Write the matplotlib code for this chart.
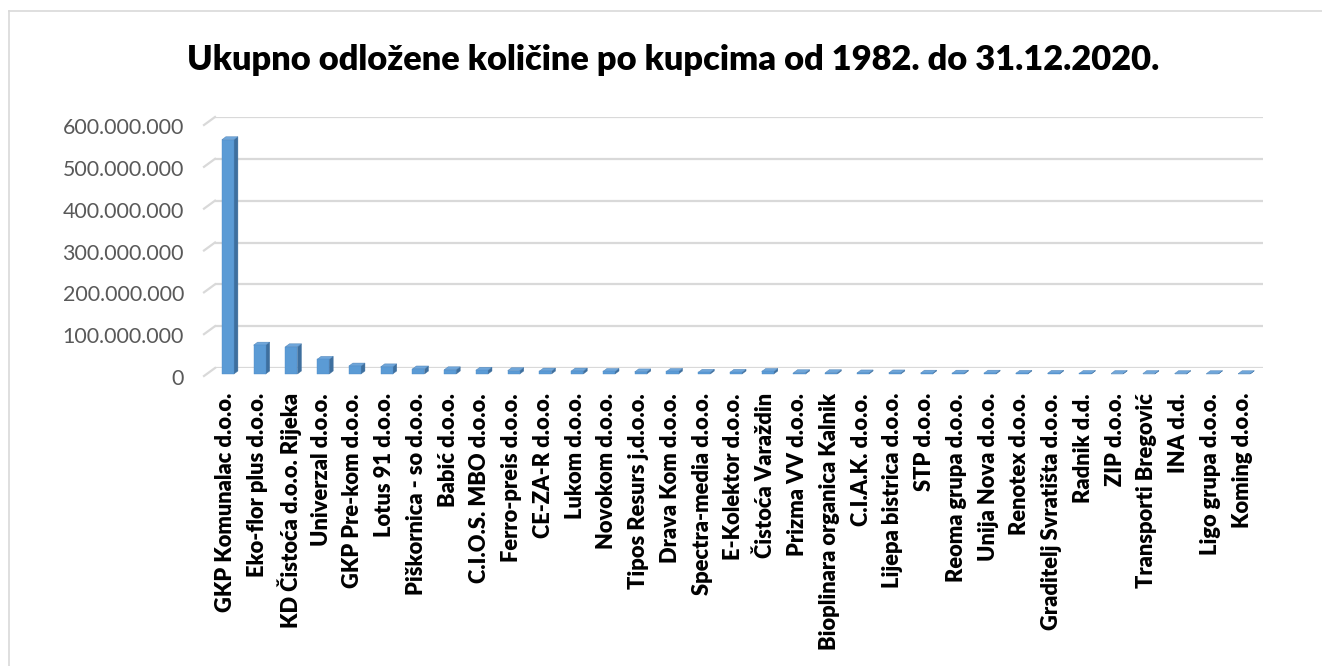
import matplotlib
matplotlib.use("Agg")
import matplotlib.pyplot as plt
from matplotlib.patches import Polygon
from matplotlib.lines import Line2D
from matplotlib.ticker import FuncFormatter
import matplotlib.transforms as mtransforms

title = "Ukupno odložene količine po kupcima od 1982. do 31.12.2020."

categories = [
    "GKP Komunalac d.o.o.", "Eko-flor plus d.o.o.", "KD Čistoća d.o.o. Rijeka",
    "Univerzal d.o.o.", "GKP Pre-kom d.o.o.", "Lotus 91 d.o.o.",
    "Piškornica - so d.o.o.", "Babić d.o.o.", "C.I.O.S. MBO d.o.o.",
    "Ferro-preis d.o.o.", "CE-ZA-R d.o.o.", "Lukom d.o.o.", "Novokom d.o.o.",
    "Tipos Resurs j.d.o.o.", "Drava Kom d.o.o.", "Spectra-media d.o.o.",
    "E-Kolektor d.o.o.", "Čistoća Varaždin", "Prizma VV d.o.o.",
    "Bioplinara organica Kalnik", "C.I.A.K. d.o.o.", "Lijepa bistrica d.o.o.",
    "STP d.o.o.", "Reoma grupa d.o.o.", "Unija Nova d.o.o.", "Renotex d.o.o.",
    "Graditelj Svratišta d.o.o.", "Radnik d.d.", "ZIP d.o.o.",
    "Transporti Bregović", "INA d.d.", "Ligo grupa d.o.o.", "Koming d.o.o.",
]

values = [
    560e6, 69e6, 65e6, 35e6, 19e6, 17e6, 12e6, 10e6, 9e6,
    8e6, 7e6, 7e6, 6e6, 5e6, 6e6, 4e6, 4e6, 6e6, 3e6,
    3e6, 2.5e6, 2.5e6, 2e6, 2e6, 2e6, 1.5e6, 1.5e6, 1.2e6,
    1e6, 1e6, 0.8e6, 0.7e6, 0.6e6,
]

yticks = [0, 100e6, 200e6, 300e6, 400e6, 500e6, 600e6]

W, H = 1322, 666
fig = plt.figure(figsize=(W / 100, H / 100), dpi=100)
fig.patch.set_facecolor("white")

# outer chart border (left and top edges visible)
fig.add_artist(Line2D([9 / W, 9 / W], [0, 1 - 11 / H], transform=fig.transFigure,
                      color="#D9D9D9", lw=1.2))
fig.add_artist(Line2D([9 / W, 1], [1 - 11 / H, 1 - 11 / H], transform=fig.transFigure,
                      color="#D9D9D9", lw=1.2))

left, right = 215 / W, 1263 / W
bottom, top = 1 - 368 / H, 1 - 117 / H
ax = fig.add_axes([left, bottom, right - left, top - bottom])
ax.set_facecolor("none")
n = len(categories)
ax.set_xlim(-0.5, n - 0.5)
ax.set_ylim(0, 600e6)
for s in ax.spines.values():
    s.set_visible(False)

fig.canvas.draw()
toD = ax.transData
inv = ax.transData.inverted()


def off(x, y, dx, dy):
    p = toD.transform((x, y))
    return inv.transform((p[0] + dx, p[1] + dy))


# gridlines on back wall + slanted side-wall lines
for t in yticks:
    ax.plot([-0.5, n - 0.5], [t, t], color="#D9D9D9", lw=1.6, zorder=1,
            solid_capstyle="butt")
    p0 = off(-0.5, t, -11, -8)
    ax.plot([p0[0], -0.5], [p0[1], t], color="#D9D9D9", lw=1.6, zorder=1,
            clip_on=False)

# 3D-style bars
w = 0.38
dxb, dyb = 4, 3      # depth of bar in px
fdx, fdy = -3, -6    # front face offset from back wall
c_front, c_side, c_top = "#5B9BD5", "#3E6F9E", "#6FA6DA"
for i, v in enumerate(values):
    x0, x1 = i - w / 2, i + w / 2
    f00 = off(x0, 0, fdx, fdy)
    f10 = off(x1, 0, fdx, fdy)
    f11 = off(x1, v, fdx, fdy)
    f01 = off(x0, v, fdx, fdy)
    b10 = off(x1, 0, fdx + dxb, fdy + dyb)
    b11 = off(x1, v, fdx + dxb, fdy + dyb)
    b01 = off(x0, v, fdx + dxb, fdy + dyb)
    ax.add_patch(Polygon([f10, b10, b11, f11], closed=True, facecolor=c_side,
                         edgecolor=c_side, lw=0.3, zorder=3, clip_on=False))
    ax.add_patch(Polygon([f01, f11, b11, b01], closed=True, facecolor=c_top,
                         edgecolor="#4A7FB3", lw=0.3, zorder=4, clip_on=False))
    ax.add_patch(Polygon([f00, f10, f11, f01], closed=True, facecolor=c_front,
                         edgecolor="#4F8CC7", lw=0.3, zorder=5, clip_on=False))


def fit_size(text, family, weight, target_px, base=12):
    t = fig.text(0, 0, text, fontsize=base, family=family, weight=weight)
    fig.canvas.draw()
    wpx = t.get_window_extent().width
    t.remove()
    return base * target_px / wpx


# y ticks
ysize = fit_size("600.000.000", "Lato", "normal", 121)
ax.set_yticks(yticks)
ax.yaxis.set_major_formatter(FuncFormatter(lambda v, p: f"{int(round(v)):,}".replace(",", ".")))
ax.tick_params(axis="y", length=0, pad=31 * 72 / 100, labelsize=ysize, labelcolor="#595959")
for lab in ax.get_yticklabels():
    lab.set_family("Lato")
    lab.set_transform(lab.get_transform() + mtransforms.ScaledTranslation(0, -9 / 100, fig.dpi_scale_trans))

# x ticks
xsize = fit_size("GKP Komunalac d.o.o.", "Lato", "heavy", 218)
ax.set_xticks(range(n))
ax.set_xticklabels(categories, rotation=90, fontsize=xsize, fontweight="heavy",
                   family="Lato", va="top", ha="center")
ax.tick_params(axis="x", length=0, pad=25 * 72 / 100)
for lab in ax.get_xticklabels():
    lab.set_transform(lab.get_transform() + mtransforms.ScaledTranslation(-5 / 100, 0, fig.dpi_scale_trans))

# title
tsize = fit_size(title, "Lato", "heavy", 970)
fig.text(673 / W, 1 - 60 / H, title, fontsize=tsize, fontweight="heavy",
         family="Lato", ha="center", va="center", color="black")

fig.savefig("out.png", dpi=100)
